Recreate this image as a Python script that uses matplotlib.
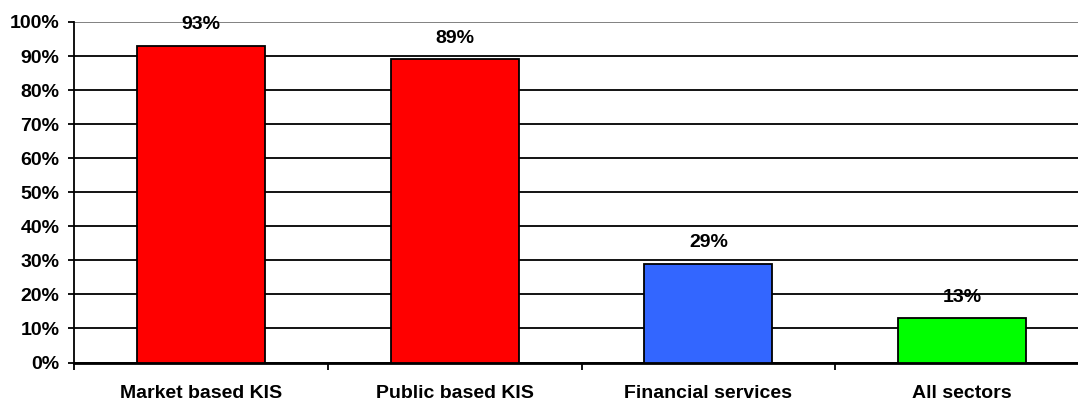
import matplotlib
matplotlib.use('Agg')
import matplotlib.pyplot as plt
from matplotlib.ticker import FuncFormatter

categories = ["Market based KIS", "Public based KIS", "Financial services", "All sectors"]
values = [93, 89, 29, 13]
colors = ["#FF0000", "#FF0000", "#3366FF", "#00FF00"]

plt.rcParams['font.family'] = ['Liberation Sans', 'DejaVu Sans']
plt.rcParams['font.weight'] = 'bold'

fig = plt.figure(figsize=(10.78, 4), dpi=100)
# axes runs a bit past the right edge like the original
ax = fig.add_axes([74/1078, 37.5/400, 1015/1078, 340.5/400])

x = range(len(categories))
ax.bar(x, values, width=0.505, color=colors, edgecolor='black', linewidth=1.3, zorder=3)

for i, v in zip(x, values):
    ax.annotate(f"{v}%", (i, v), xytext=(0, 9), textcoords='offset points',
                ha='center', va='bottom', fontsize=14, fontweight='bold', zorder=4)

ax.set_ylim(0, 100)
ax.set_xlim(-0.5, 3.5)
ax.set_yticks(range(0, 101, 10))
ax.yaxis.set_major_formatter(FuncFormatter(lambda v, p: f"{int(v)}%"))
ax.yaxis.grid(True, color='black', linewidth=1.3, zorder=0)
gl = ax.get_ygridlines()
gl[-1].set_color('#777777')

ax.set_xticks([-0.5, 0.5, 1.5, 2.5, 3.5])
ax.set_xticklabels([])
ax.set_xticks(list(x), minor=True)
ax.set_xticklabels(categories, minor=True, fontsize=14, fontweight='bold')
ax.tick_params(axis='x', which='minor', length=0, pad=16)
ax.tick_params(axis='x', which='major', length=5, width=1.3, direction='out')
ax.tick_params(axis='y', length=4.5, width=1.3, labelsize=14, pad=6)
for lab in ax.get_yticklabels():
    lab.set_fontweight('bold')

ax.spines['top'].set_visible(False)
ax.spines['right'].set_visible(False)
ax.spines['left'].set_linewidth(1.3)
ax.spines['bottom'].set_linewidth(2)

plt.savefig('out.png', dpi=100)
